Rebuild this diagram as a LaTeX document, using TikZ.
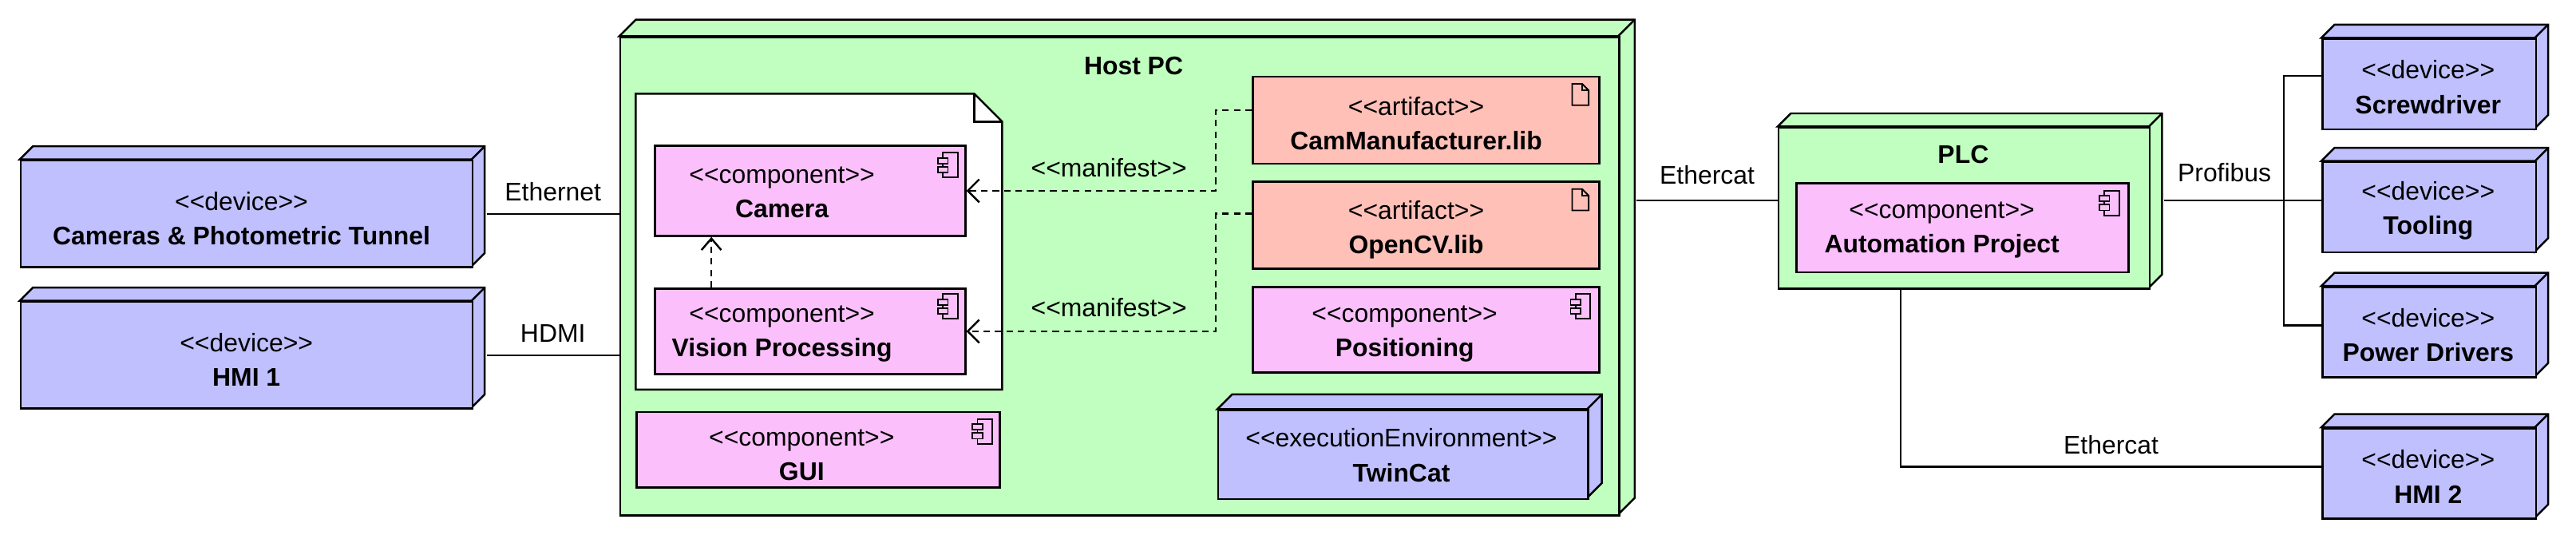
\documentclass[tikz,border=0pt]{standalone}
\usepackage{fontspec}
\setmainfont{Liberation Sans}[Ligatures=NoCommon]
\usetikzlibrary{arrows.meta}
\definecolor{gr}{HTML}{C0FFC0}
\definecolor{pk}{HTML}{FBC0FB}
\definecolor{sa}{HTML}{FFC0B8}
\definecolor{bl}{HTML}{C0C0FF}
\newcommand\st[1]{{<}{<}#1{>}{>}}
\tikzset{
 ln/.style={line width=1.2pt,line join=miter},
 dashln/.style={ln,dash pattern=on 4pt off 3pt},
 conn/.style={line width=1pt},
 lbl/.style={font=\fontsize{15.5}{18}\selectfont},
 txt/.style={align=center,font=\fontsize{15.5}{21}\selectfont},
}
\newcommand\cube[7]{%
 \filldraw[ln,fill=#7] (#2,#3)--(#2+#6,#3-#6)--(#4+#6,#3-#6)--(#4+#6,#5-#6)--(#4,#5)--(#4,#3)--cycle;
 \draw[ln] (#4,#3)--(#4+#6,#3-#6);
 \node[ln,draw,fill=#7,inner sep=0,anchor=north west,minimum width={(#4-#2)*1pt},minimum height={(#5-#3)*1pt}] (#1) at (#2,#3) {};}
\newcommand\rbox[6]{%
 \node[ln,draw,fill=#6,inner sep=0,anchor=north west,minimum width={(#4-#2)*1pt},minimum height={(#5-#3)*1pt}] (#1) at (#2,#3) {};}
\newcommand\compicon[2]{% top-right x,y
 \draw[line width=0.9pt,fill=pk] (#1-9,#2)rectangle(#1,#2+15);
 \draw[line width=0.9pt,fill=pk] (#1-12,#2+3)rectangle(#1-6,#2+6.5);
 \draw[line width=0.9pt,fill=pk] (#1-12,#2+8.5)rectangle(#1-6,#2+12);}
\newcommand\articon[2]{%
 \draw[line width=0.9pt] (#1-10,#2)--(#1-4,#2)--(#1,#2+4)--(#1,#2+13)--(#1-10,#2+13)--cycle;
 \draw[line width=0.9pt] (#1-4,#2)--(#1-4,#2+4)--(#1,#2+4);}
\begin{document}
\begin{tikzpicture}[x=1pt,y=-1pt]
\useasboundingbox (0,0) rectangle (1568,330);
% Host PC
\cube{host}{377}{22}{985}{313}{10}{gr}
\node[txt,font=\fontsize{15.5}{18}\selectfont\bfseries] (hostl) at (690,40) {Host PC};
% note box
\filldraw[ln,fill=white] (387,57)--(593,57)--(610,74)--(610,237)--(387,237)--cycle;
\draw[ln] (593,57)--(593,74)--(610,74);
\rbox{cam}{398}{88}{587}{143}{pk}
\node[txt] at (476,117) {\st{component}\\\textbf{Camera}};
\compicon{583}{93}
\rbox{vis}{398}{175}{587}{227}{pk}
\node[txt] at (476,203) {\st{component}\\\textbf{Vision Processing}};
\compicon{583}{179}
\rbox{gui}{387}{250}{608}{296}{pk}
\node[txt] at (488,277) {\st{component}\\\textbf{GUI}};
\compicon{604}{255}
\rbox{cml}{762}{46}{973}{99}{sa}
\node[txt] at (862,75) {\st{artifact}\\\textbf{CamManufacturer.lib}};
\articon{967}{51}
\rbox{ocv}{762}{110}{973}{163}{sa}
\node[txt] at (862,140) {\st{artifact}\\\textbf{OpenCV.lib}};
\articon{967}{115}
\rbox{pos}{762}{174}{973}{226}{pk}
\node[txt] at (855,203) {\st{component}\\\textbf{Positioning}};
\compicon{968}{179}
\cube{twc}{741}{249}{966}{303}{9}{bl}
\node[txt] at (853,277) {\st{executionEnvironment}\\\textbf{TwinCat}};
% manifests
\coordinate (m1) at (740,67);
\coordinate (m2) at (740,130);
\draw[dashln,-{Straight Barb[length=7pt,width=14pt]}] (cml.west|-m1)--(m1)--(m1|-cam.east)--(cam.east);
\draw[dashln,-{Straight Barb[length=7pt,width=14pt]}] (ocv.west|-m2)--(m2)--(m2|-vis.east)--(vis.east);
\node[lbl] at (675,102) {\st{manifest}};
\node[lbl] at (675,187) {\st{manifest}};
\coordinate (cv) at (433,0);
\draw[dashln,-{Straight Barb[length=7pt,width=12pt]}] (cv|-vis.north)--(cv|-cam.south);
% left devices
\cube{cams}{12}{97}{287}{162}{8}{bl}
\node[txt] at (147,133) {\st{device}\\\textbf{Cameras \& Photometric Tunnel}};
\cube{hmi1}{12}{183}{287}{248}{8}{bl}
\node[txt] at (150,219) {\st{device}\\\textbf{HMI 1}};
\draw[conn] ([xshift=8pt]cams.east)--(cams.east-|host.west) node[lbl,midway,above=4pt]{Ethernet};
\draw[conn] ([xshift=8pt]hmi1.east)--(hmi1.east-|host.west) node[lbl,midway,above=4pt]{HDMI};
% PLC
\cube{plc}{1082}{77}{1308}{175}{8}{gr}
\node[txt,font=\fontsize{15.5}{18}\selectfont\bfseries] at (1195,94) {PLC};
\rbox{ap}{1093}{111}{1295}{165}{pk}
\node[txt] at (1182,140) {\st{component}\\\textbf{Automation Project}};
\compicon{1290}{116}
\coordinate (e1) at (1000,122);
\draw[conn] ([xshift=10pt]host.east|-e1)--(plc.west|-e1) node[lbl,midway,above=6pt]{Ethercat};
% right devices
\cube{scr}{1413}{23}{1543}{78}{8}{bl}
\node[txt] at (1478,53) {\st{device}\\\textbf{Screwdriver}};
\cube{tol}{1413}{98}{1543}{153}{8}{bl}
\node[txt] at (1478,128) {\st{device}\\\textbf{Tooling}};
\cube{pwr}{1413}{174}{1543}{229}{8}{bl}
\node[txt] at (1478,204) {\st{device}\\\textbf{Power Drivers}};
\cube{hmi2}{1413}{260}{1543}{315}{8}{bl}
\node[txt] at (1478,290) {\st{device}\\\textbf{HMI 2}};
\coordinate (bus) at (1390,122);
\draw[conn] ([xshift=8pt]plc.east|-bus)--(tol.west|-bus);
\node[lbl] at (1354,105) {Profibus};
\draw[conn] (scr.west|-0,46)--(bus|-0,46)--(bus|-0,198)--(pwr.west|-0,198);
\coordinate (hd) at (1157,284);
\draw[conn] (hd|-plc.south)--(hd)--(hmi2.west|-hd) node[lbl,pos=0.5,above=4pt]{Ethercat};
\end{tikzpicture}
\end{document}
